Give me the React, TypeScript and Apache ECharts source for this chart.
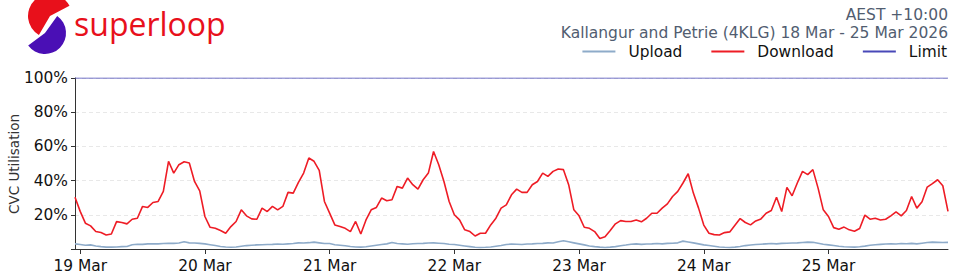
import React, { useEffect, useRef } from "react";
import * as echarts from "echarts";

const FONT = "'DejaVu Sans', Verdana, sans-serif";

const titleLine1 = "AEST +10:00";
const titleLine2 = "Kallangur and Petrie (4KLG) 18 Mar - 25 Mar 2026";
const yAxisName = "CVC Utilisation";
const seriesNames = ["Upload", "Download", "Limit"];

// x axis: hours since 19 Mar 00:00 (AEST)
const dayTickHours = [0, 24, 48, 72, 96, 120, 144];
const dayLabels = ["19 Mar", "20 Mar", "21 Mar", "22 Mar", "23 Mar", "24 Mar", "25 Mar"];
const startHour = -1; // first sample 18 Mar 23:00
const yTickValues = [20, 40, 60, 80, 100];
const limitValue = 100;

// hourly download utilisation (%), 18 Mar 23:00 .. 25 Mar 23:00
const download = [
  30.3,
  22, 15.1, 13.5, 10.2, 9.6, 8.2, 8.8, 16, 15.5, 14.7, 17.4, 18,
  24.9, 24.3, 27.2, 27.8, 33.7, 51.3, 44.4, 49.3, 51, 50.3, 39.5, 34,
  19, 12.7, 12.1, 10.8, 9.2, 13.1, 16.1, 22.9, 19.4, 17.6, 17.4, 23.9,
  21.9, 24.9, 22.9, 24.9, 33.1, 32.7, 39, 44.4, 53.2, 51.3, 46, 27.8,
  21, 14.1, 13.1, 12.1, 10.2, 16.1, 8.8, 17, 22.9, 24.3, 29.8, 28.2,
  28.8, 36.6, 35.6, 41.5, 37.6, 35, 40.5, 44.4, 57, 49.3, 39.5, 27.8,
  20, 17, 11.2, 10.2, 7.6, 9.2, 9.2, 14.1, 18, 23.9, 25.8, 31.7,
  35, 33.1, 33.1, 37.6, 39.5, 44.4, 42.5, 45.4, 46.8, 46.4, 37.6, 22.9,
  19.4, 12.7, 12.1, 10.2, 6.1, 7.2, 10.8, 14.7, 16.6, 16.1, 16.1, 17,
  15.9, 18, 20.9, 20.9, 23.9, 26.4, 30.7, 33.7, 38.6, 44, 32.7, 23.9,
  14, 9.2, 8.4, 8.2, 9.6, 10, 13.9, 17.8, 15.5, 14.1, 16.4, 17.6,
  20.9, 22.5, 30.3, 21.9, 36, 31.1, 38.6, 45.4, 43.5, 46.4, 35.6, 22.9,
  19, 12.5, 11.6, 12.8, 11.2, 10.4, 12, 19.8, 17.4, 18, 17, 17.4,
  19.4, 21.7, 19.4, 22.5, 30.7, 23.9, 27.6, 36.2, 38.2, 40.5, 37, 22,
];

// hourly upload utilisation (%)
const upload = [
  3,
  2.6, 2.2, 2.4, 1.8, 1.4, 1.1, 1.1, 1.2, 1.4, 1.5, 2.5, 2.8,
  2.7, 3.0, 3.1, 3.0, 3.2, 3.4, 3.3, 3.5, 4.2, 3.6, 3.5, 3.3,
  3, 2.5, 2.0, 1.5, 1.2, 1.0, 1.2, 1.6, 2.0, 2.2, 2.4, 2.5,
  2.6, 2.7, 2.9, 2.8, 3.0, 3.2, 3.6, 3.5, 3.7, 4.0, 3.6, 3.2,
  3.2, 2.5, 2.2, 1.9, 1.5, 1.2, 1.1, 1.3, 1.8, 2.2, 2.6, 3.0,
  3.8, 3.2, 3.0, 2.8, 3.1, 3.2, 3.3, 3.5, 3.6, 3.4, 3.2, 2.8,
  2.6, 2.2, 1.8, 1.4, 1.0, 0.9, 1.0, 1.2, 1.6, 2.0, 2.6, 2.9,
  2.8, 2.6, 2.9, 3.0, 3.2, 3.3, 3.6, 3.5, 4.2, 4.8, 4.2, 3.6,
  3.0, 2.4, 1.8, 1.4, 1.1, 0.9, 1.1, 1.4, 1.9, 2.3, 2.8, 3.0,
  2.7, 2.9, 3.0, 3.2, 3.0, 3.3, 3.4, 3.6, 4.6, 4.1, 3.6, 3.0,
  2.4, 2.0, 1.6, 1.2, 1.0, 0.9, 1.1, 1.5, 2.0, 2.3, 2.6, 2.8,
  3.0, 3.2, 3.0, 3.3, 3.4, 3.5, 3.6, 3.8, 4.0, 3.9, 3.4, 2.8,
  2.4, 2.0, 1.6, 1.3, 1.2, 1.1, 1.3, 1.7, 2.2, 2.5, 2.7, 2.9,
  3.0, 2.9, 3.2, 3.1, 3.3, 3.0, 3.4, 3.8, 4.0, 3.9, 3.8, 3.9,
];

const COLORS = { upload: "#8eabc9", download: "#ee1c25", limit: "#4848b8" };

export default function App() {
  const ref = useRef<HTMLDivElement>(null);
  useEffect(() => {
    document.body.style.margin = "0";
    if (!ref.current) return;
    const chart = echarts.init(ref.current, null, { renderer: "svg" });
    const endHour = startHour + download.length - 1;
    const dl = download.map((v, i) => [startHour + i, v]);
    const ul = upload.map((v, i) => [startHour + i, v]);
    const lim = [
      [startHour, limitValue],
      [endHour, limitValue],
    ];
    const titleStyle = { fontSize: 15.5, fontWeight: "normal", color: "#515d70", fontFamily: FONT };
    chart.setOption({
      animation: false,
      textStyle: { fontFamily: FONT },
      title: [
        { text: titleLine1, right: 12, top: 7, padding: 0, textStyle: titleStyle },
        { text: titleLine2, right: 12, top: 25, padding: 0, textStyle: titleStyle },
      ],
      legend: {
        right: 13,
        top: 44,
        padding: 0,
        itemWidth: 33,
        itemHeight: 2,
        itemGap: 29,
        icon: "rect",
        data: seriesNames,
        textStyle: { fontSize: 15.4, color: "#111", fontFamily: FONT, padding: [0, 0, 0, 8] },
      },
      grid: {
        left: 75,
        right: 12,
        top: 78,
        bottom: 31,
        containLabel: false,
        outerBoundsMode: "none",
      },
      xAxis: {
        type: "value",
        min: startHour,
        max: endHour,
        axisLine: { show: true, onZero: false, lineStyle: { color: "#333", width: 1 } },
        axisTick: { show: true, customValues: dayTickHours, length: 5, lineStyle: { color: "#333" } },
        axisLabel: {
          customValues: dayTickHours,
          margin: 9,
          fontSize: 15.4,
          color: "#111",
          fontFamily: FONT,
          formatter: (v: number) => dayLabels[dayTickHours.indexOf(v)] ?? "",
        },
        splitLine: { show: false },
      },
      yAxis: {
        type: "value",
        min: 0,
        max: 100,
        interval: 20,
        axisLine: { show: true, onZero: false, lineStyle: { color: "#333", width: 1 } },
        axisTick: { show: true, length: 4, lineStyle: { color: "#333" } },
        axisLabel: {
          margin: 7,
          fontSize: 15.4,
          color: "#111",
          fontFamily: FONT,
          formatter: (v: number) => (yTickValues.includes(v) ? v + "%" : ""),
        },
        splitLine: { show: true, lineStyle: { color: "#e8e8e8", type: [4, 3], width: 1 } },
      },
      series: [
        {
          name: seriesNames[0],
          type: "line",
          data: ul,
          showSymbol: false,
          symbol: "none",
          lineStyle: { color: COLORS.upload, width: 1.6 },
          itemStyle: { color: COLORS.upload },
          z: 2,
        },
        {
          name: seriesNames[1],
          type: "line",
          data: dl,
          showSymbol: false,
          symbol: "none",
          lineStyle: { color: COLORS.download, width: 1.6 },
          itemStyle: { color: COLORS.download },
          z: 3,
        },
        {
          name: seriesNames[2],
          type: "line",
          data: lim,
          showSymbol: false,
          symbol: "none",
          lineStyle: { color: COLORS.limit, width: 1 },
          itemStyle: { color: COLORS.limit },
          z: 4,
        },
      ],
      graphic: [
        {
          type: "text",
          x: 14,
          y: 164,
          rotation: Math.PI / 2,
          style: {
            text: yAxisName,
            fontSize: 13.5,
            fontFamily: FONT,
            fill: "#333",
            align: "center",
            verticalAlign: "middle",
          },
        },
        {
          type: "sector",
          shape: { cx: 50, cy: 16, r: 22, r0: 0, startAngle: 2.1, endAngle: 5.8, clockwise: true },
          style: { fill: "#e8101b" },
        },
        {
          type: "sector",
          shape: { cx: 45, cy: 33, r: 21, r0: 0, startAngle: -0.95, endAngle: 2.5, clockwise: true },
          style: { fill: "#4a0fb5" },
        },
        {
          type: "text",
          x: 74,
          y: 23,
          style: {
            text: "superloop",
            fontSize: 32,
            fontFamily: "'Open Sans', sans-serif",
            fontWeight: 500,
            fill: "#e8101b",
            verticalAlign: "middle",
            align: "left",
          },
        },
      ],
    });
    return () => chart.dispose();
  }, []);
  return <div ref={ref} style={{ width: 960, height: 280 }} />;
}
